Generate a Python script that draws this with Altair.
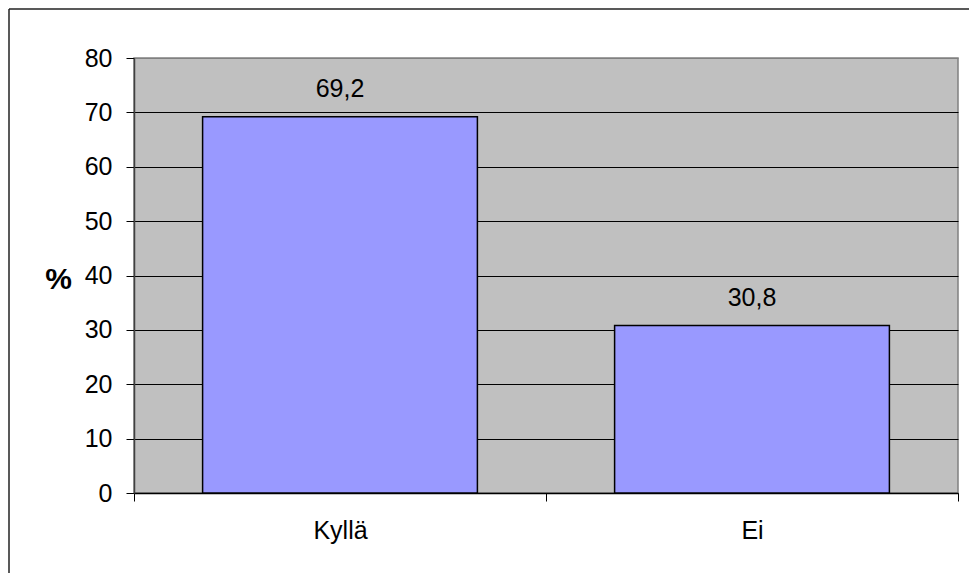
import altair as alt
import pandas as pd

categories = ["Kyllä", "Ei"]
values = [69.2, 30.8]
y_ticks = [0, 10, 20, 30, 40, 50, 60, 70, 80]

df = pd.DataFrame({"category": categories, "value": values})
one = pd.DataFrame({"a": [0]})

FONT = "Liberation Sans"
W, H = 824, 435

x_enc = alt.X(
    "category:N",
    sort=categories,
    scale=alt.Scale(paddingInner=0, paddingOuter=0),
    axis=alt.Axis(
        title=None,
        labelAngle=0,
        labelFontSize=25,
        labelColor="black",
        labelPadding=17,
        tickBand="extent",
        tickSize=8,
        tickColor="black",
        domainColor="black",
        domainWidth=1.5,
        grid=False,
    ),
)

y_enc = alt.Y(
    "value:Q",
    scale=alt.Scale(domain=[0, 80], nice=False),
    axis=alt.Axis(
        values=y_ticks,
        title="%",
        titleAngle=0,
        titleFontSize=30,
        titleFontWeight="bold",
        titleColor="black",
        titleAlign="center",
        titleBaseline="alphabetic",
        titleX=-76,
        titleY=230,
        labelFontSize=25,
        labelColor="black",
        labelPadding=14,
        tickSize=8,
        tickColor="black",
        domainColor="#404040",
        domainWidth=1.5,
        grid=True,
        gridColor={"condition": {"test": "datum.value === 80", "value": "#808080"}, "value": "black"},
        gridWidth=1,
    ),
)

bars = alt.Chart(df).mark_bar(
    width=alt.RelativeBandSize(0.667),
    color="#9999FF",
    stroke="black",
    strokeWidth=1.5,
).encode(x=x_enc, y=y_enc)

labels = alt.Chart(df).transform_calculate(
    label="replace(format(datum.value, '.1f'), '.', ',')"
).mark_text(
    baseline="alphabetic",
    dy=-20,
    fontSize=25,
    font=FONT,
    color="black",
).encode(
    x=alt.X("category:N", sort=categories),
    y=alt.Y("value:Q"),
    text="label:N",
)

border_top = alt.Chart(one).mark_rule(color="#222222", strokeWidth=1.5).encode(
    x=alt.value(-125), x2=alt.value(W + 20), y=alt.value(-49)
)
border_left = alt.Chart(one).mark_rule(color="#222222", strokeWidth=1.5).encode(
    x=alt.value(-125), y=alt.value(-49), y2=alt.value(H + 90)
)

chart = alt.layer(bars, labels, border_top, border_left).properties(
    width=W,
    height=H,
    autosize=alt.AutoSizeParams(type="none"),
    padding={"left": 126, "top": 50, "right": 11, "bottom": 80},
    background="white",
).configure_view(
    fill="#C0C0C0",
    stroke="#808080",
    strokeWidth=1.5,
).configure_axis(
    labelFont=FONT,
    titleFont=FONT,
)

chart.save("out.html", embed_options={"renderer": "svg", "actions": False})
